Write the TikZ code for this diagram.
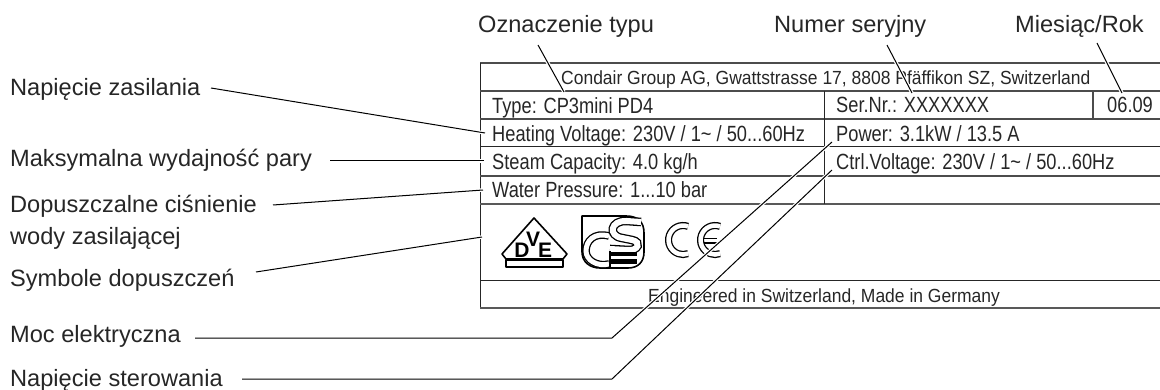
\documentclass[tikz,border=0pt]{standalone}
\usepackage{fontspec}
\setmainfont{Liberation Sans}
\newfontfamily\rowfont[FakeStretch=0.83]{Liberation Sans}
\newfontfamily\capfont[FakeStretch=0.92]{Liberation Sans}
\tikzset{
  lbl/.style={anchor=base west,inner sep=0pt,font=\fontsize{23.6}{26}\selectfont,text=black!85},
  plate/.style={anchor=base west,inner sep=0pt,font=\rowfont\fontsize{22}{24}\selectfont,text=black!85},
  platecap/.style={anchor=base west,inner sep=0pt,font=\capfont\fontsize{19}{22}\selectfont,text=black!85},
  rule/.style={draw=black!70,line width=1.2pt},
  rulethick/.style={draw=black!65,line width=1.8pt},
  rulethin/.style={draw=black!85,line width=1pt},
  leader/.style={draw=black,line width=1pt,line join=miter,preaction={draw=white,line width=3.4pt}},
  symb/.style={draw=black,line width=1.6pt,line join=round},
  dbl/.style={draw=black,line width=1.3pt,double=white,line cap=butt},
  vdetxt/.style={inner sep=0pt,text=black,font=\bfseries\fontsize{21}{21}\selectfont},
}
\begin{document}
\begin{tikzpicture}[x=1pt,y=-1pt]
\useasboundingbox (0,0) rectangle (1160,390);
\clip (0,0) rectangle (1160,390);
% plate
\draw[rule] (1160,63) -- (480,63);
\draw[rulethin] (480,63) -- (480,308);
\draw[rule] (480,91) -- (1160,91);
\draw[rule] (480,119) -- (1160,119);
\draw[rulethin] (480,147) -- (1160,147);
\draw[rule] (480,176) -- (1160,176);
\draw[rulethick] (480,204) -- (1160,204);
\draw[rulethin] (480,281) -- (1160,281);
\draw[rulethick] (480,308) -- (1160,308);
\draw[rulethin] (824,91) -- (824,204);
\draw[rule] (1093,91) -- (1093,119);
% plate text
\node[platecap] (t1) at (561,85) {Condair Group AG, Gwattstrasse 17, 8808 Pfäffikon SZ, Switzerland};
\node[plate] (t2) at (492,114) {Type: CP3mini PD4};
\node[plate] (t3) at (836,113) {Ser.Nr.: XXXXXXX};
\node[plate] (t4) at (1107,113) {06.09};
\node[plate] (t5) at (492,142) {Heating Voltage: 230V / 1\textasciitilde{} / 50...60Hz};
\node[plate] (t6) at (836,142) {Power: 3.1kW / 13.5 A};
\node[plate] (t7) at (492,170) {Steam Capacity: 4.0 kg/h};
\node[plate] (t8) at (836,170) {Ctrl.Voltage: 230V / 1\textasciitilde{} / 50...60Hz};
\node[plate] (t9) at (492,198) {Water Pressure: 1...10 bar};
\node[platecap] (t10) at (648,302) {Engineered in Switzerland, Made in Germany};
% labels
\node[lbl] (a) at (478,33) {Oznaczenie typu};
\node[lbl] (b) at (774,33) {Numer seryjny};
\node[lbl] (c) at (1015,33) {Miesiąc/Rok};
\node[lbl] (d) at (10,96) {Napięcie zasilania};
\node[lbl] (e) at (10,167) {Maksymalna wydajność pary};
\node[lbl] (f) at (10,213) {Dopuszczalne ciśnienie};
\node[lbl] (g) at (10,245) {wody zasilającej};
\node[lbl] (h) at (10,287) {Symbole dopuszczeń};
\node[lbl] (i) at (10,342) {Moc elektryczna};
\node[lbl] (j) at (10,386) {Napięcie sterowania};
% VDE mark
\draw[symb] (534,218) -- (567,254) -- (563,259) -- (506,259) -- (502,254) -- cycle;
\draw[symb] (506,260) rectangle (563,267);
\node[vdetxt] (vd) at (522,250) {D};
\node[vdetxt] (vv) at (533,239) {V};
\node[vdetxt] (ve) at (545,250) {E};
% GS mark
\draw[symb] (582,216) -- (626,216) .. controls (638,216) and (644,222) .. (644,233) -- (644,252) .. controls (644,262) and (638,268) .. (628,268) -- (600,268) .. controls (590,268) and (582,262) .. (582,252) -- cycle;
\draw[dbl,double distance=5pt] (609,236) .. controls (594,232) and (586,241) .. (586,251) .. controls (586,260) and (597,267) .. (609,264);
\draw[dbl,double distance=6pt] (641,222) -- (627,221) .. controls (610,220) and (608,236) .. (622,238) -- (632,240) .. controls (642,242) and (638,251) .. (628,250) -- (610,249);
\draw[symb,line width=1.2pt] (610,251) -- (610,268);
\fill[black] (611,252) rectangle (637,256);
\fill[black] (611,259) rectangle (637,264);
% CE mark
\draw[dbl,double distance=4.5pt] (688,226.4) arc[start angle=-70,delta angle=-220,radius=14.5];
\draw[dbl,double distance=3pt] (703,241) -- (717,241);
\draw[dbl,double distance=4.5pt] (720,226.4) arc[start angle=-70,delta angle=-220,radius=14.5];
% leader ends
\coordinate (a1) at (538,45); \coordinate (a2) at (564,92);
\coordinate (b1) at (887,45); \coordinate (b2) at (912,93);
\coordinate (c1) at (1097,43); \coordinate (c2) at (1122,93);
\coordinate (d1) at (211,88); \coordinate (d2) at (485,133);
\coordinate (e1) at (330,161); \coordinate (e2) at (484,161);
\coordinate (f1) at (273,205); \coordinate (f2) at (483,190);
\coordinate (h1) at (256,272); \coordinate (h2) at (482,237);
\coordinate (i1) at (195,338); \coordinate (i2) at (612,338); \coordinate (i3) at (832,142);
\coordinate (j1) at (242,379); \coordinate (j2) at (612,379); \coordinate (j3) at (832,170);
\draw[leader] (a1) -- (a2);
\draw[leader] (b1) -- (b2);
\draw[leader] (c1) -- (c2);
\draw[leader] (d1) -- (d2);
\draw[leader] (e1) -- (e2);
\draw[leader] (f1) -- (f2);
\draw[leader] (h1) -- (h2);
\draw[leader] (i1) -- (i2) -- (i3);
\draw[leader] (j1) -- (j2) -- (j3);
\end{tikzpicture}
\end{document}
